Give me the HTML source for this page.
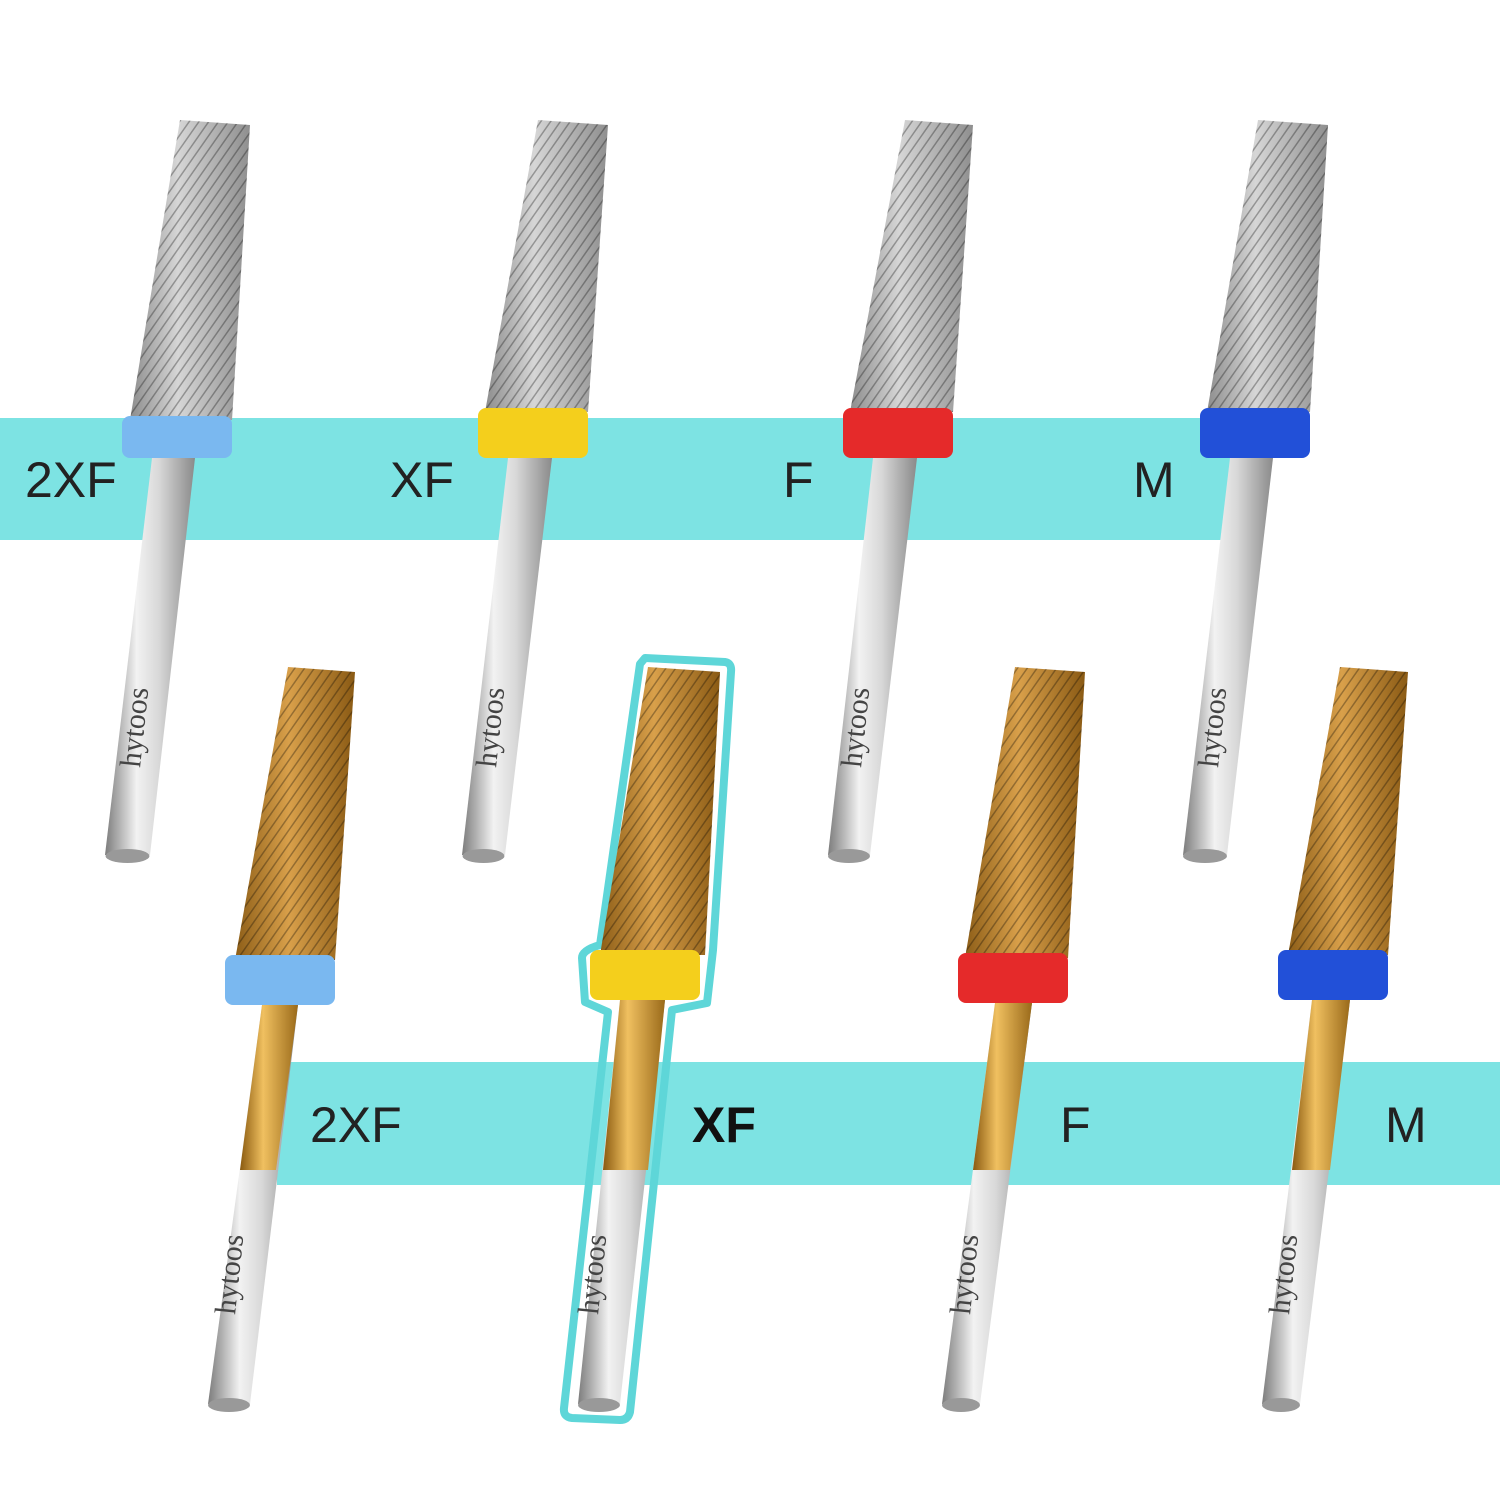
<!DOCTYPE html>
<html><head><meta charset="utf-8"><style>
html,body{margin:0;padding:0;background:#fff;width:1500px;height:1500px;overflow:hidden}
svg{display:block}
</style></head><body>
<svg width="1500" height="1500" viewBox="0 0 1500 1500" xmlns="http://www.w3.org/2000/svg">
<defs>
<linearGradient id="sv" x1="0" x2="1" y1="0" y2="0">
<stop offset="0" stop-color="#7c7c7c"/><stop offset="0.35" stop-color="#f2f2f2"/><stop offset="0.6" stop-color="#d8d8d8"/><stop offset="1" stop-color="#8a8a8a"/></linearGradient>
<linearGradient id="svh" x1="0" x2="1" y1="0" y2="0">
<stop offset="0" stop-color="#8d8d8d"/><stop offset="0.4" stop-color="#d6d6d6"/><stop offset="1" stop-color="#8f8f8f"/></linearGradient>
<linearGradient id="gd" x1="0" x2="1" y1="0" y2="0">
<stop offset="0" stop-color="#8a5a10"/><stop offset="0.4" stop-color="#f0c060"/><stop offset="1" stop-color="#9a6a1a"/></linearGradient>
<linearGradient id="gdh" x1="0" x2="1" y1="0" y2="0">
<stop offset="0" stop-color="#8d5e18"/><stop offset="0.45" stop-color="#d9a04a"/><stop offset="1" stop-color="#8a5a14"/></linearGradient>
<pattern id="hatch" width="8" height="8" patternUnits="userSpaceOnUse" patternTransform="rotate(35)">
<rect width="8" height="8" fill="none"/><line x1="0" y1="0" x2="0" y2="8" stroke="#000" stroke-opacity="0.3" stroke-width="3"/></pattern>
</defs>

<rect x="0" y="418" width="1240" height="122" fill="#7de3e3"/>
<rect x="277" y="1062" width="1223" height="123" fill="#7de3e3"/>

<g font-family="Liberation Sans, sans-serif" font-size="50" fill="#222">
<text x="25" y="497">2XF</text>
<text x="390" y="497">XF</text>
<text x="783" y="497">F</text>
<text x="1133" y="497">M</text>
<text x="310" y="1142">2XF</text>
<text x="692" y="1142" font-weight="bold" fill="#111">XF</text>
<text x="1060" y="1142">F</text>
<text x="1385" y="1142">M</text>
</g>

<path d="M645,658 L725,662 Q732,663 731,672 L713,950 L707,1003 L672,1010 L630,1412 Q628,1420 620,1420 L572,1418 Q563,1417 564,1408 L608,1012 L585,1002 L582,958 Q582,950 600,945 L640,664 Z" fill="none" stroke="#5ed6d8" stroke-width="8" stroke-linejoin="round"/>

<g>
<polygon points="152,458 195,458 150,855 105,855" fill="url(#sv)"/><ellipse cx="127.5" cy="856" rx="22" ry="7" fill="#999"/>
<polygon points="180,120 250,125 232,420 130,420" fill="url(#svh)"/><polygon points="180,120 250,125 232,420 130,420" fill="url(#hatch)"/>
<rect x="122" y="416" width="110" height="42" rx="8" fill="#7ab8f0"/>

<polygon points="508,458 552,458 505,855 462,855" fill="url(#sv)"/><ellipse cx="483.5" cy="856" rx="21" ry="7" fill="#999"/>
<polygon points="538,120 608,125 588,412 485,412" fill="url(#svh)"/><polygon points="538,120 608,125 588,412 485,412" fill="url(#hatch)"/>
<rect x="478" y="408" width="110" height="50" rx="8" fill="#f4cf1c"/>

<polygon points="873,458 917,458 870,855 828,855" fill="url(#sv)"/><ellipse cx="849" cy="856" rx="21" ry="7" fill="#999"/>
<polygon points="905,120 973,125 953,412 850,412" fill="url(#svh)"/><polygon points="905,120 973,125 953,412 850,412" fill="url(#hatch)"/>
<rect x="843" y="408" width="110" height="50" rx="8" fill="#e52a2a"/>

<polygon points="1230,458 1273,458 1227,855 1183,855" fill="url(#sv)"/><ellipse cx="1205" cy="856" rx="22" ry="7" fill="#999"/>
<polygon points="1258,120 1328,125 1310,412 1207,412" fill="url(#svh)"/><polygon points="1258,120 1328,125 1310,412 1207,412" fill="url(#hatch)"/>
<rect x="1200" y="408" width="110" height="50" rx="8" fill="#2250d8"/>
</g>

<g>
<polygon points="262,1005 298,1005 250,1404 208,1404" fill="url(#sv)"/><ellipse cx="229" cy="1405" rx="21" ry="7" fill="#999"/>
<polygon points="262,1005 298,1005 276,1170 240,1170" fill="url(#gd)"/>
<polygon points="288,667 355,672 335,960 235,960" fill="url(#gdh)"/><polygon points="288,667 355,672 335,960 235,960" fill="url(#hatch)"/>
<rect x="225" y="955" width="110" height="50" rx="8" fill="#7ab8f0"/>

<polygon points="620,1000 665,1000 620,1404 578,1404" fill="url(#sv)"/><ellipse cx="599" cy="1405" rx="21" ry="7" fill="#999"/>
<polygon points="620,1000 665,1000 648,1170 603,1170" fill="url(#gd)"/>
<polygon points="648,667 720,672 705,955 600,955" fill="url(#gdh)"/><polygon points="648,667 720,672 705,955 600,955" fill="url(#hatch)"/>
<rect x="590" y="950" width="110" height="50" rx="8" fill="#f4cf1c"/>

<polygon points="995,1003 1032,1003 980,1404 942,1404" fill="url(#sv)"/><ellipse cx="961" cy="1405" rx="19" ry="7" fill="#999"/>
<polygon points="995,1003 1032,1003 1010,1170 973,1170" fill="url(#gd)"/>
<polygon points="1015,667 1085,672 1068,958 965,958" fill="url(#gdh)"/><polygon points="1015,667 1085,672 1068,958 965,958" fill="url(#hatch)"/>
<rect x="958" y="953" width="110" height="50" rx="8" fill="#e52a2a"/>

<polygon points="1312,1000 1350,1000 1300,1404 1262,1404" fill="url(#sv)"/><ellipse cx="1281" cy="1405" rx="19" ry="7" fill="#999"/>
<polygon points="1312,1000 1350,1000 1330,1170 1292,1170" fill="url(#gd)"/>
<polygon points="1340,667 1408,672 1388,955 1288,955" fill="url(#gdh)"/><polygon points="1340,667 1408,672 1388,955 1288,955" fill="url(#hatch)"/>
<rect x="1278" y="950" width="110" height="50" rx="8" fill="#2250d8"/>
</g>

<g font-family="Liberation Serif, serif" font-size="30" fill="#444">
<text transform="translate(140,768) rotate(-84)">hytoos</text>
<text transform="translate(496,768) rotate(-84)">hytoos</text>
<text transform="translate(861,768) rotate(-84)">hytoos</text>
<text transform="translate(1218,768) rotate(-84)">hytoos</text>
<text transform="translate(235,1315) rotate(-84)">hytoos</text>
<text transform="translate(598,1315) rotate(-84)">hytoos</text>
<text transform="translate(970,1315) rotate(-84)">hytoos</text>
<text transform="translate(1289,1315) rotate(-84)">hytoos</text>
</g>
</svg>
</body></html>
